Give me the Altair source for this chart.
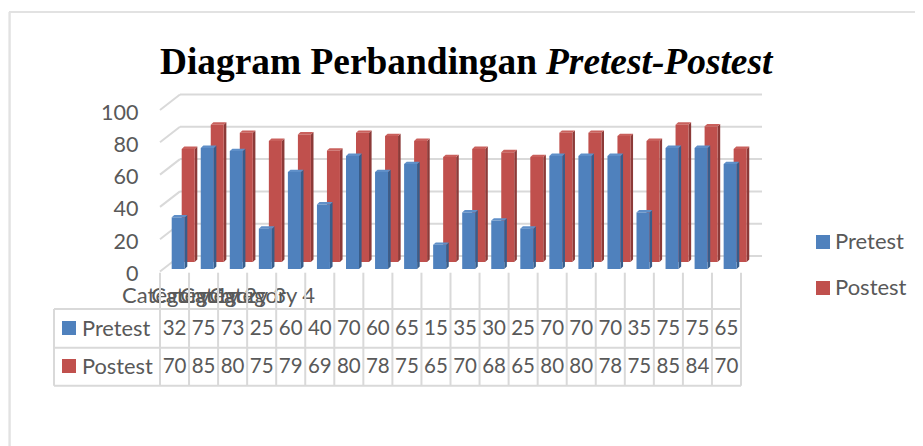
import altair as alt
import pandas as pd

pretest = [32,75,73,25,60,40,70,60,65,15,35,30,25,70,70,70,35,75,75,65]
postest = [70,85,80,75,79,69,80,78,75,65,70,68,65,80,80,78,75,85,84,70]
series = ["Pretest", "Postest"]
colors = ["#4f81bd", "#c0504d"]
side_colors = ["#385d8a", "#8c3a38"]
top_colors = ["#5f8fc8", "#c9605c"]
y_ticks = [0, 20, 40, 60, 80, 100]
cat_labels = [1, 2, 3, 4]

M = 8
W, H = 907, 438
PX_X = (741 - 160) / 20
PX_Y = (271.5 - 110) / 100
FONT = "Lato"
GREY = "#595959"
LINE = "#d9d9d9"

xs = alt.Scale(domain=[0, 20], range=[160 - M, 741 - M], nice=False, zero=False)
ys = alt.Scale(domain=[0, 100], range=[271.5 - M, 110 - M], nice=False, zero=False)

y_axis = alt.Axis(values=y_ticks, orient="left", offset=-130, domain=False, ticks=False, grid=False,
                  labelFont=FONT, labelFontSize=21.5, labelColor=GREY, labelPadding=0, labelOffset=3,
                  labelFlush=False, labelOverlap=False, title=None)
x_axis = alt.Axis(values=[c - 0.5 for c in cat_labels], orient="bottom", offset=-161, domain=False, ticks=False,
                  grid=False, labelFont=FONT, labelFontSize=22, labelColor=GREY, labelPadding=0,
                  labelOverlap=False, labelFlush=False, labelAngle=0, labelBaseline="top",
                  labelExpr="'Category ' + (datum.value + 0.5)", title=None)

def X(f="x"):
    return alt.X(f"{f}:Q", scale=xs, axis=x_axis, title=None)

def Y(f="y"):
    return alt.Y(f"{f}:Q", scale=ys, axis=y_axis, title=None)

X2 = alt.X2("x2:Q")
Y2 = alt.Y2("y2:Q")
ONE = pd.DataFrame({"a": [0]})

# walls
wall_dx, wall_dy = 20 / PX_X, 15.5 / PX_Y
right = (762 - 160) / PX_X
back = pd.DataFrame([{"x": wall_dx, "x2": right, "y": t + wall_dy, "y2": t + wall_dy} for t in y_ticks])
diag = pd.DataFrame([{"x": 0, "x2": wall_dx, "y": t, "y2": t + wall_dy} for t in y_ticks])

layers = []
layers.append(alt.Chart(back).mark_rule(stroke=LINE, strokeWidth=2).encode(x=X(), x2=X2, y=Y(), y2=Y2))
layers.append(alt.Chart(diag).mark_rule(stroke=LINE, strokeWidth=2).encode(x=X(), x2=X2, y=Y(), y2=Y2))

# bars
def bar_frames(vals, name, x_off_px, base_px, w_px=13.0, d_x=2.6, d_y=2.4):
    front, side, top = [], [], []
    b = base_px / PX_Y
    for i, v in enumerate(vals):
        x0 = i + x_off_px / PX_X
        x1 = x0 + w_px / PX_X
        dx = d_x / PX_X
        dy = d_y / PX_Y
        front.append({"x": x0, "x2": x1, "y": b, "y2": b + v, "s": name})
        side.append({"i": i, "x": x1, "y": b + v, "y2": b})
        side.append({"i": i, "x": x1 + dx, "y": b + v + dy, "y2": b + dy})
        top.append({"i": i, "y": b + v, "x": x0, "x2": x1})
        top.append({"i": i, "y": b + v + dy, "x": x0 + dx, "x2": x1 + dx})
    return map(pd.DataFrame, (front, side, top))

def bar_layers(vals, k, x_off, base):
    f, s, t = bar_frames(vals, series[k], x_off, base)
    return [
        alt.Chart(s).mark_area(color=side_colors[k], orient="vertical").encode(
            x=X(), y=Y(), y2=Y2, detail="i:N"),
        alt.Chart(t).mark_area(color=top_colors[k], orient="horizontal").encode(
            y=Y(), x=X(), x2=X2, detail="i:N"),
        alt.Chart(f).mark_rect().encode(
            x=X(), x2=X2, y=Y(), y2=Y2,
            color=alt.Color("s:N", scale=alt.Scale(domain=series, range=colors),
                legend=alt.Legend(orient="none", legendX=804, legendY=223, title=None,
                    symbolType="square", symbolSize=196, symbolStrokeWidth=0,
                    labelFont=FONT, labelFontSize=22, labelColor=GREY,
                    rowPadding=24, labelOffset=1, padding=0))),
    ]

layers += bar_layers(postest, 1, 21.7, 9.5)
layers += bar_layers(pretest, 0, 11.7, 2.5)

# data table
rows_y = [309 - M, 347.7 - M, 385.7 - M]
center_y = [329 - M, 367 - M]
vlines = pd.DataFrame({"x": list(range(21))})
layers.append(alt.Chart(vlines).mark_rule(stroke=LINE, strokeWidth=2).encode(
    x=X(), y=alt.value(272.7 - M), y2=alt.value(rows_y[2])))
for r in rows_y:
    layers.append(alt.Chart(ONE).mark_rule(stroke=LINE, strokeWidth=2).encode(
        x=alt.value(54 - M), x2=alt.value(741 - M), y=alt.value(r)))
layers.append(alt.Chart(ONE).mark_rule(stroke=LINE, strokeWidth=2).encode(
    x=alt.value(54 - M), y=alt.value(rows_y[0]), y2=alt.value(rows_y[2])))

for k, vals in enumerate([pretest, postest]):
    d = pd.DataFrame({"x": [i + 0.5 for i in range(20)], "v": vals})
    layers.append(alt.Chart(d).mark_text(font=FONT, fontSize=20.5, color=GREY, baseline="middle", align="center").encode(
        x=X(), y=alt.value(center_y[k]), text="v:Q"))
    layers.append(alt.Chart(pd.DataFrame({"t": [series[k]]})).mark_text(
        font=FONT, fontSize=21.8, color=GREY, baseline="middle", align="left").encode(
        x=alt.value(82 - M), y=alt.value(center_y[k]), text="t:N"))
    layers.append(alt.Chart(ONE).mark_square(size=196, color=colors[k], opacity=1).encode(
        x=alt.value(69 - M), y=alt.value(center_y[k] - 1)))

# frame
layers.append(alt.Chart(ONE).mark_rule(stroke="#e2e2e2", strokeWidth=2.4).encode(
    x=alt.value(9.6 - M), y=alt.value(12 - M), y2=alt.value(H)))
layers.append(alt.Chart(ONE).mark_rule(stroke="#e2e2e2", strokeWidth=2).encode(
    x=alt.value(9 - M), x2=alt.value(W), y=alt.value(12 - M)))

# title
TITLE_BASE = 74 - M
layers.append(alt.Chart(pd.DataFrame({"t": ["Diagram Perbandingan"]})).mark_text(
    font="Liberation Serif", fontSize=37.4, fontWeight="bold", color="black", align="right", baseline="alphabetic").encode(
    x=alt.value(537 - M), y=alt.value(TITLE_BASE), text="t:N"))
layers.append(alt.Chart(pd.DataFrame({"t": ["Pretest-Postest"]})).mark_text(
    font="Liberation Serif", fontSize=37.4, fontWeight="bold", fontStyle="italic", color="black", align="left", baseline="alphabetic").encode(
    x=alt.value(546 - M), y=alt.value(TITLE_BASE), text="t:N"))

chart = alt.layer(*layers).properties(
    width=W, height=H, padding=0, autosize=alt.AutoSizeParams(type="none"), background="white"
).configure_view(stroke=None)

chart.save("out.html", embed_options={"renderer": "svg", "actions": False})
